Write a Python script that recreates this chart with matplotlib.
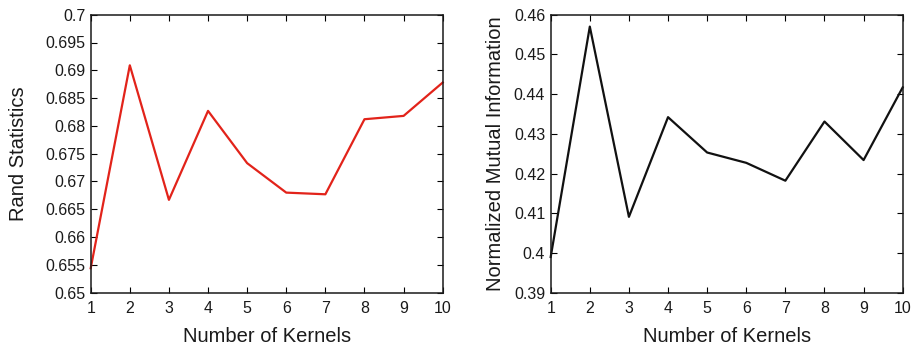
import matplotlib
matplotlib.use("Agg")
import matplotlib.pyplot as plt

plt.rcParams['font.family'] = ['Liberation Sans', 'DejaVu Sans']

kernels = [1, 2, 3, 4, 5, 6, 7, 8, 9, 10]
rand_stat = [0.6544, 0.6909, 0.6667, 0.6827, 0.6733, 0.6680, 0.6677, 0.6812, 0.6818, 0.6878]
nmi = [0.3990, 0.4570, 0.4091, 0.4342, 0.4253, 0.4227, 0.4182, 0.4331, 0.4234, 0.4417]

rand_ticks = [0.65, 0.655, 0.66, 0.665, 0.67, 0.675, 0.68, 0.685, 0.69, 0.695, 0.7]
rand_labels = ['0.65', '0.655', '0.66', '0.665', '0.67', '0.675', '0.68', '0.685', '0.69', '0.695', '0.7']
nmi_ticks = [0.39, 0.40, 0.41, 0.42, 0.43, 0.44, 0.45, 0.46]
nmi_labels = ['0.39', '0.4', '0.41', '0.42', '0.43', '0.44', '0.45', '0.46']

fig = plt.figure(figsize=(9.16, 3.47), dpi=100)
W, H = 916, 347
ax1 = fig.add_axes([90.7 / W, 1 - 292.7 / H, 352 / W, 278 / H])
ax2 = fig.add_axes([550.7 / W, 1 - 292.7 / H, 352 / W, 278 / H])


def style(ax, ticks, labels, ylabel, ypad):
    ax.set_xlim(1, 10)
    ax.set_xticks(kernels)
    ax.set_ylim(ticks[0], ticks[-1])
    ax.set_yticks(ticks)
    ax.set_yticklabels(labels)
    ax.tick_params(direction='in', top=True, right=True, length=4, width=0.8,
                   labelsize=11.5, labelcolor='#1a1a1a')
    ax.tick_params(axis='x', pad=6)
    ax.tick_params(axis='y', pad=4)
    for s in ax.spines.values():
        s.set_linewidth(1.1)
        s.set_color('#1a1a1a')
    ax.set_xlabel('Number of Kernels', fontsize=14.5, color='#1a1a1a', labelpad=8)
    ax.set_ylabel(ylabel, fontsize=14.5, color='#1a1a1a', labelpad=ypad)


ax1.plot(kernels, rand_stat, color='#e2231a', lw=1.6, clip_on=False)
style(ax1, rand_ticks, rand_labels, 'Rand Statistics', 12)

ax2.plot(kernels, nmi, color='#111111', lw=1.6, clip_on=False)
style(ax2, nmi_ticks, nmi_labels, 'Normalized Mutual Information', 6)

fig.savefig('out.png', dpi=100)
